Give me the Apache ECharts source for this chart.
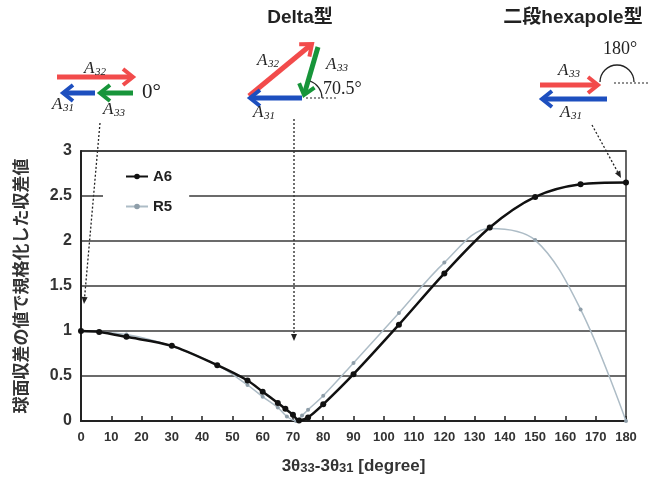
<!DOCTYPE html>
<html>
<head>
<meta charset="utf-8">
<script src="https://cdn.jsdelivr.net/npm/echarts@6/dist/echarts.min.js"></script>
<style>
  html, body { margin: 0; padding: 0; background: #fff; }
  #chart { width: 650px; height: 486px; }
</style>
</head>
<body>
<div id="chart"></div>
<script>
// values
const a6Deg = [0, 6, 15, 30, 45, 55, 60, 65, 67.5, 70, 72, 75, 80, 90, 105, 120, 135, 150, 165, 180]
const a6Val = [1.0, 0.99, 0.935, 0.835, 0.62, 0.45, 0.325, 0.2, 0.135, 0.07, 0.005, 0.04, 0.185, 0.52, 1.07, 1.64, 2.15, 2.49, 2.63, 2.65]
const r5Deg = [0, 15, 30, 45, 55, 60, 65, 68, 71, 73, 75, 80, 90, 105, 120, 135, 150, 165, 180]
const r5Val = [1.0, 0.96, 0.83, 0.62, 0.4, 0.27, 0.15, 0.05, 0.0, 0.06, 0.125, 0.28, 0.645, 1.2, 1.76, 2.14, 2.01, 1.24, 0.0]

const xTicks = { min: 0, max: 180, step: 10 }
const yTicks = { min: 0, max: 3, step: 0.5 }

const RED = '#f24b4b'
const BLUE = '#1d4fbf'
const GREEN = '#17953a'
const SANS = '"Liberation Sans", Arial, "Noto Sans CJK JP", sans-serif'
const SERIF = '"Liberation Serif", "DejaVu Serif", serif'

const zip = (xs, ys) => xs.map((x, i) => [x, ys[i]])

// 太い矢印（線 + 山形の頭）
function arrow(x1, y1, x2, y2, color, w) {
  const a = Math.atan2(y2 - y1, x2 - x1)
  const hl = 10, hw = 8
  const bx = x2 - hl * Math.cos(a), by = y2 - hl * Math.sin(a)
  const nx = -Math.sin(a), ny = Math.cos(a)
  return [
    { type: 'line', shape: { x1, y1, x2: x2 - 2 * Math.cos(a), y2: y2 - 2 * Math.sin(a) }, style: { stroke: color, lineWidth: w } },
    { type: 'polyline', shape: { points: [[bx + nx * hw, by + ny * hw], [x2, y2], [bx - nx * hw, by - ny * hw]] },
      style: { stroke: color, lineWidth: w - 1, fill: null, lineJoin: 'miter' } }
  ]
}

// 点線の矢印
function dotArrow(x1, y1, x2, y2) {
  const a = Math.atan2(y2 - y1, x2 - x1)
  const hl = 7, hw = 3
  const bx = x2 - hl * Math.cos(a), by = y2 - hl * Math.sin(a)
  const nx = -Math.sin(a), ny = Math.cos(a)
  return [
    { type: 'line', shape: { x1, y1, x2: bx, y2: by }, style: { stroke: '#222', lineWidth: 1.3, lineDash: [2, 2] } },
    { type: 'polygon', shape: { points: [[bx + nx * hw, by + ny * hw], [x2, y2], [bx - nx * hw, by - ny * hw]] },
      style: { fill: '#222' } }
  ]
}

function amp(x, y, sub) {
  return [
    { type: 'text', x, y, style: { text: 'A', font: 'italic 17px ' + SERIF, fill: '#222', verticalAlign: 'top' } },
    { type: 'text', x: x + 11, y: y + 7, style: { text: sub, font: 'italic 11px ' + SERIF, fill: '#222', verticalAlign: 'top' } }
  ]
}

function txt(x, y, text, font, align) {
  return { type: 'text', x, y, style: { text, font, fill: '#222', align: align || 'left', verticalAlign: 'top' } }
}

const graphics = [
  // 0°
  ...arrow(57, 77, 133, 77, RED, 5),
  ...arrow(95, 93, 63, 93, BLUE, 5),
  ...arrow(133, 93, 100, 93, GREEN, 5),
  ...amp(84, 60, '32'),
  ...amp(52, 96, '31'),
  ...amp(103, 101, '33'),
  txt(142, 82, '0°', '21px ' + SERIF),
  ...dotArrow(100, 123, 84, 304),

  // Delta型
  txt(300, 8, 'Delta型', 'bold 19px ' + SANS, 'center'),
  ...arrow(249, 96, 312, 44, RED, 5),
  ...arrow(318, 47, 304, 95, GREEN, 5),
  ...arrow(302, 98, 250, 98, BLUE, 5),
  { type: 'line', shape: { x1: 306, y1: 98, x2: 336, y2: 98 }, style: { stroke: '#222', lineWidth: 1.2, lineDash: [2, 2] } },
  { type: 'arc', shape: { cx: 304, cy: 98, r: 18, startAngle: -70.5 * Math.PI / 180, endAngle: 0, clockwise: true },
    style: { stroke: '#222', lineWidth: 1.2, fill: null } },
  ...amp(257, 52, '32'),
  ...amp(326, 56, '33'),
  ...amp(253, 104, '31'),
  txt(323, 80, '70.5°', '18px ' + SERIF),
  ...dotArrow(294, 119, 294, 341),

  // 二段hexapole型
  txt(573, 8, '二段hexapole型', 'bold 19px ' + SANS, 'center'),
  ...arrow(540, 85, 598, 85, RED, 5),
  ...arrow(607, 99, 542, 99, BLUE, 5),
  { type: 'arc', shape: { cx: 617, cy: 82, r: 17, startAngle: Math.PI, endAngle: 2 * Math.PI, clockwise: true },
    style: { stroke: '#222', lineWidth: 1.3, fill: null } },
  { type: 'line', shape: { x1: 614, y1: 83, x2: 650, y2: 83 }, style: { stroke: '#222', lineWidth: 1.2, lineDash: [2, 2] } },
  txt(603, 40, '180°', '18px ' + SERIF),
  ...amp(558, 62, '33'),
  ...amp(560, 104, '31'),
  ...dotArrow(592, 125, 621, 178)
]

const chart = echarts.init(document.getElementById('chart'))

const option = {
  backgroundColor: '#fff',
  animation: false,
  grid: {
    left: 81, right: 24, top: 151, bottom: 65,
    show: true, borderColor: '#333', borderWidth: 1.5, backgroundColor: '#fff'
  },
  legend: {
    orient: 'vertical',
    left: 103, top: 161,
    padding: [8, 17, 10, 22],
    backgroundColor: '#fff',
    itemWidth: 22, itemHeight: 7, itemGap: 15,
    textStyle: { fontFamily: SANS, fontWeight: 'bold', fontSize: 15, color: '#222' },
    data: ['A6', 'R5']
  },
  xAxis: {
    type: 'value',
    min: xTicks.min, max: xTicks.max, interval: xTicks.step,
    name: '{n|3θ}{s|33}{n|-3θ}{s|31}{n| [degree]}',
    nameLocation: 'middle', nameGap: 37,
    nameTextStyle: {
      rich: {
        n: { fontFamily: SANS, fontWeight: 'bold', fontSize: 17, color: '#333' },
        s: { fontFamily: SANS, fontWeight: 'bold', fontSize: 13, color: '#333', padding: [4, 0, 0, 0] }
      }
    },
    axisLine: { lineStyle: { color: '#222', width: 2 } },
    axisTick: { inside: true, length: 5, lineStyle: { color: '#222', width: 1.5 } },
    axisLabel: { fontFamily: SANS, fontWeight: 'bold', fontSize: 13, color: '#333', margin: 10 },
    splitLine: { show: false }
  },
  yAxis: {
    type: 'value',
    min: yTicks.min, max: yTicks.max, interval: yTicks.step,
    name: '球面収差の値で規格化した収差値',
    nameLocation: 'middle', nameRotate: 90, nameGap: 52,
    nameTextStyle: { fontFamily: '"Noto Sans CJK JP", sans-serif', fontWeight: 'bold', fontSize: 17, color: '#333' },
    axisLine: { show: true, lineStyle: { color: '#222', width: 2 } },
    axisTick: { show: false },
    axisLabel: { fontFamily: SANS, fontWeight: 'bold', fontSize: 16, color: '#333', margin: 9 },
    splitLine: { lineStyle: { color: '#3a3a3a', width: 1.5 } }
  },
  series: [
    {
      name: 'R5',
      type: 'line',
      data: zip(r5Deg, r5Val),
      smooth: 0.35,
      symbol: 'circle', symbolSize: 4,
      lineStyle: { color: '#adbcc6', width: 1.5 },
      itemStyle: { color: '#8e9ea9' },
      z: 2
    },
    {
      name: 'A6',
      type: 'line',
      data: zip(a6Deg, a6Val),
      smooth: 0.3,
      symbol: 'circle', symbolSize: 6,
      lineStyle: { color: '#111', width: 2.5 },
      itemStyle: { color: '#111' },
      z: 3
    }
  ],
  graphic: graphics
}

chart.setOption(option)
</script>
</body>
</html>
